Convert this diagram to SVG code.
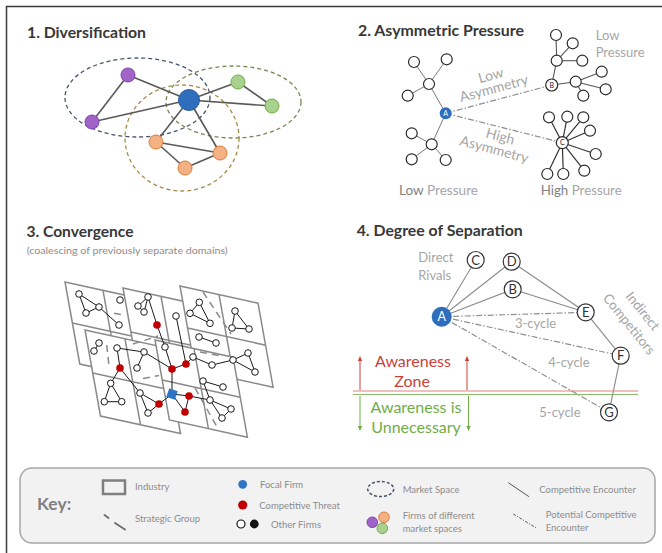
<svg xmlns="http://www.w3.org/2000/svg" width="662" height="553" viewBox="0 0 662 553">
<style>
text{font-family:Lato,"Liberation Sans",sans-serif}
.title{font-weight:bold;font-size:16px;fill:#383838}
.lbl{font-size:13px;fill:#A6A6A6}
.key{font-size:9.5px;fill:#8C8C8C}
.e1{stroke:#595959;stroke-width:1.6;fill:none}
.wn{fill:#fff;stroke:#2b2b2b;stroke-width:1.2}
.tree{stroke:#7a7a7a;stroke-width:1;fill:none}
.dd{stroke:#8f8f8f;stroke-width:1.2;stroke-dasharray:6 2 1.5 2;fill:none}
.tile{fill:#fff;stroke:#8a8a8a;stroke-width:1.5}
.div{stroke:#8a8a8a;stroke-width:1.5;fill:none}
.sg{stroke:#8a8a8a;stroke-width:1.5;stroke-dasharray:7 5;fill:none}
.ce{stroke:#1a1a1a;stroke-width:1;fill:none}
.sn{fill:#fff;stroke:#1a1a1a;stroke-width:1}
.rn{fill:#C00000}
.p4e{stroke:#8a8a8a;stroke-width:1.1;fill:none}
.p4n{fill:#fff;stroke:#333;stroke-width:1.2}
.p4t{font-size:13px;fill:#333;text-anchor:middle}
</style>
<defs>
<marker id="ar" markerWidth="6" markerHeight="6" refX="3" refY="3" orient="auto" markerUnits="userSpaceOnUse"><path d="M0,0.8 L5,3 L0,5.2 z" fill="#C8423A"/></marker>
<marker id="ag" markerWidth="6" markerHeight="6" refX="3" refY="3" orient="auto" markerUnits="userSpaceOnUse"><path d="M0,0.8 L5,3 L0,5.2 z" fill="#70AD47"/></marker>
</defs>
<rect width="662" height="553" fill="#fff"/>
<path d="M6.5,553 V6.5 H662" fill="none" stroke="#3a3a3a" stroke-width="1.5"/>

<!-- Panel 1 -->
<text class="title" x="27" y="38" textLength="119" lengthAdjust="spacingAndGlyphs">1. Diversification</text>
<g id="p1-spaces" fill="none" stroke-width="1.3" stroke-dasharray="4 3">
<ellipse cx="137.5" cy="97.5" rx="72.5" ry="39.5" stroke="#44546A"/>
<ellipse cx="233.5" cy="102" rx="67.5" ry="36" stroke="#6E8B4E"/>
<ellipse cx="182" cy="138" rx="57" ry="53" stroke="#A88B4A"/>
</g>
<g id="p1-connectors" class="e1">
<line x1="128" y1="75" x2="92" y2="122"/>
<line x1="128" y1="75" x2="189" y2="100"/>
<line x1="92" y1="122" x2="189" y2="100"/>
<line x1="189" y1="100" x2="238" y2="82"/>
<line x1="189" y1="100" x2="272" y2="106"/>
<line x1="238" y1="82" x2="272" y2="106"/>
<line x1="189" y1="100" x2="156" y2="142"/>
<line x1="189" y1="100" x2="220" y2="153"/>
<line x1="156" y1="142" x2="220" y2="153"/>
<line x1="156" y1="142" x2="185" y2="168"/>
<line x1="185" y1="168" x2="220" y2="153"/>
</g>
<g id="p1-focal"><circle cx="189" cy="100" r="10.5" fill="#2E6EBD" stroke="#2A5FA0" stroke-width="1"/></g>
<g id="p1-purple1"><circle cx="128" cy="75" r="7" fill="#A064C8" stroke="#7E44AA" stroke-width="1"/></g>
<g id="p1-purple2"><circle cx="92" cy="122" r="7" fill="#A064C8" stroke="#7E44AA" stroke-width="1"/></g>
<g id="p1-green1"><circle cx="238" cy="82" r="7" fill="#A9D18E" stroke="#70AD47" stroke-width="1"/></g>
<g id="p1-green2"><circle cx="272" cy="106" r="7" fill="#A9D18E" stroke="#70AD47" stroke-width="1"/></g>
<g id="p1-orange1"><circle cx="156" cy="142" r="7" fill="#F4B183" stroke="#E07B39" stroke-width="1"/></g>
<g id="p1-orange2"><circle cx="220" cy="153" r="7" fill="#F4B183" stroke="#E07B39" stroke-width="1"/></g>
<g id="p1-orange3"><circle cx="185" cy="168" r="7" fill="#F4B183" stroke="#E07B39" stroke-width="1"/></g>

<!-- Panel 2 -->
<text class="title" x="358" y="35.5" textLength="166" lengthAdjust="spacingAndGlyphs">2. Asymmetric Pressure</text>
<g id="p2-connectors">
<g class="tree">
<line x1="445.7" y1="113.3" x2="429" y2="84"/>
<line x1="429" y1="84" x2="414" y2="62"/>
<line x1="429" y1="84" x2="446.7" y2="59.3"/>
<line x1="429" y1="84" x2="407.7" y2="95.7"/>
<line x1="445.7" y1="113.3" x2="431.7" y2="144.3"/>
<line x1="431.7" y1="144.3" x2="411.7" y2="133.3"/>
<line x1="431.7" y1="144.3" x2="411.7" y2="159.3"/>
<line x1="431.7" y1="144.3" x2="445.7" y2="160"/>
</g>
<g stroke="#555" stroke-width="1.1" fill="none">
<line x1="551.7" y1="85" x2="556.7" y2="60.7"/>
<line x1="556.7" y1="60.7" x2="556" y2="35"/>
<line x1="556.7" y1="60.7" x2="572.7" y2="43.3"/>
<line x1="556.7" y1="60.7" x2="582.3" y2="60.7"/>
<line x1="551.7" y1="85" x2="575.7" y2="81.7"/>
<line x1="575.7" y1="81.7" x2="601.7" y2="71.7"/>
<line x1="575.7" y1="81.7" x2="605.7" y2="89.3"/>
<line x1="575.7" y1="81.7" x2="583.3" y2="95.7"/>
</g>
<g stroke="#333" stroke-width="1.2" fill="none">
<line x1="562.3" y1="142.7" x2="549" y2="117.3"/>
<line x1="562.3" y1="142.7" x2="567.3" y2="116.7"/>
<line x1="562.3" y1="142.7" x2="583.3" y2="117.3"/>
<line x1="562.3" y1="142.7" x2="590" y2="130.7"/>
<line x1="562.3" y1="142.7" x2="595.7" y2="154"/>
<line x1="562.3" y1="142.7" x2="584.3" y2="170.7"/>
<line x1="562.3" y1="142.7" x2="563.3" y2="174"/>
<line x1="562.3" y1="142.7" x2="547.3" y2="174"/>
</g>
<line class="dd" x1="445.7" y1="113.3" x2="551.7" y2="85"/>
<line class="dd" x1="445.7" y1="113.3" x2="562.3" y2="142.7"/>
</g>
<g id="p2-leaves">
<circle class="wn" cx="429" cy="84" r="5.5"/>
<circle class="wn" cx="414" cy="62" r="5.5"/>
<circle class="wn" cx="446.7" cy="59.3" r="5.5"/>
<circle class="wn" cx="407.7" cy="95.7" r="5.5"/>
<circle class="wn" cx="431.7" cy="144.3" r="5.5"/>
<circle class="wn" cx="411.7" cy="133.3" r="5.5"/>
<circle class="wn" cx="411.7" cy="159.3" r="5.5"/>
<circle class="wn" cx="445.7" cy="160" r="5.5"/>
<circle class="wn" cx="556.7" cy="60.7" r="5.5"/>
<circle class="wn" cx="556" cy="35" r="5.5"/>
<circle class="wn" cx="572.7" cy="43.3" r="5.5"/>
<circle class="wn" cx="582.3" cy="60.7" r="5.5"/>
<circle class="wn" cx="575.7" cy="81.7" r="5.5"/>
<circle class="wn" cx="601.7" cy="71.7" r="5.5"/>
<circle class="wn" cx="605.7" cy="89.3" r="5.5"/>
<circle class="wn" cx="583.3" cy="95.7" r="5.5"/>
<circle class="wn" cx="549" cy="117.3" r="5.5"/>
<circle class="wn" cx="567.3" cy="116.7" r="5.5"/>
<circle class="wn" cx="583.3" cy="117.3" r="5.5"/>
<circle class="wn" cx="590" cy="130.7" r="5.5"/>
<circle class="wn" cx="595.7" cy="154" r="5.5"/>
<circle class="wn" cx="584.3" cy="170.7" r="5.5"/>
<circle class="wn" cx="563.3" cy="174" r="5.5"/>
<circle class="wn" cx="547.3" cy="174" r="5.5"/>
</g>
<g id="p2-A"><circle cx="445.7" cy="113.3" r="6" fill="#2E6EBD"/><text x="445.7" y="116" font-size="7" fill="#fff" text-anchor="middle">A</text></g>
<g id="p2-B"><circle class="wn" cx="551.7" cy="85" r="6"/><text x="551.7" y="87.7" font-size="7" fill="#222" text-anchor="middle">B</text></g>
<g id="p2-C"><circle class="wn" cx="562.3" cy="142.7" r="6"/><text x="562.3" y="145.4" font-size="7" fill="#222" text-anchor="middle">C</text></g>
<g font-size="14" fill="#A6A6A6" text-anchor="middle">
<text transform="translate(492,80) rotate(-15)">Low</text>
<text transform="translate(495,93) rotate(-15)">Asymmetry</text>
<text transform="translate(499,141) rotate(15)">High</text>
<text transform="translate(493,154) rotate(15)">Asymmetry</text>
</g>
<text class="lbl" x="595.7" y="40">Low</text>
<text class="lbl" x="595.7" y="57">Pressure</text>
<text x="399" y="195" font-size="14" textLength="79" lengthAdjust="spacingAndGlyphs"><tspan fill="#7F7F7F">Low</tspan><tspan fill="#A6A6A6"> Pressure</tspan></text>
<text x="540.7" y="195" font-size="14" textLength="81" lengthAdjust="spacingAndGlyphs"><tspan fill="#7F7F7F">High</tspan><tspan fill="#A6A6A6"> Pressure</tspan></text>

<!-- Panel 3 -->
<text class="title" x="26.5" y="236.5" textLength="107" lengthAdjust="spacingAndGlyphs">3. Convergence</text>
<text x="26.7" y="254" font-size="9.5" fill="#8C8C8C" textLength="201" lengthAdjust="spacingAndGlyphs">(coalescing of previously separate domains)</text>
<g id="p3-industries">
<g id="ind-A"><polygon class="tile" points="65,282 141,298.7 155.8,380.7 79.8,364"/><line class="div" x1="103" y1="290.4" x2="117.8" y2="372.4"/><line class="div" x1="72.4" y1="323" x2="148.4" y2="339.7"/></g>
<g id="ind-B"><polygon class="tile" points="123,288 199,304.7 214.8,392.7 138.8,376"/><line class="div" x1="161" y1="296.4" x2="176.8" y2="384.4"/><line class="div" x1="130.9" y1="332" x2="206.9" y2="348.7"/></g>
<g id="ind-C"><polygon class="tile" points="180,286 258,303.2 273.1,387.2 195.1,370"/><line class="div" x1="219" y1="294.6" x2="234.1" y2="378.6"/><line class="div" x1="187.6" y1="328" x2="265.6" y2="345.2"/></g>
<g id="ind-D"><polygon class="tile" points="85,330 165,347.6 180.5,433.6 100.5,416"/><line class="div" x1="125" y1="338.8" x2="140.5" y2="424.8"/><line class="div" x1="92.7" y1="373" x2="172.7" y2="390.6"/></g>
<g id="ind-E"><polygon class="tile" points="155,340 233,357.2 247.4,437.2 169.4,420"/><line class="div" x1="194" y1="348.6" x2="208.4" y2="428.6"/><line class="div" x1="162.2" y1="380" x2="240.2" y2="397.2"/></g>
</g>
<g id="p3-groups">
<line class="sg" x1="114" y1="313.3" x2="122" y2="314.6"/>
<line class="sg" x1="133" y1="344" x2="158" y2="336"/>
<line class="sg" x1="106.7" y1="345" x2="109" y2="366"/>
<line class="sg" x1="203" y1="292" x2="231" y2="334"/>
<line class="sg" x1="200" y1="352" x2="222" y2="356"/>
<line class="sg" x1="143" y1="378.5" x2="159" y2="375.5"/>
<line class="sg" x1="195" y1="388" x2="217" y2="427"/>
</g>
<g id="p3-connectors" class="ce">
<polyline points="79,294 99,307 86,313 79,294"/>
<line x1="99" y1="307" x2="119" y2="325"/>
<polyline points="148,297 138,306 144,312 148,297"/>
<line x1="148" y1="297" x2="157" y2="325"/>
<polyline points="157,325 165,347 172,369"/>
<line x1="176" y1="316" x2="186" y2="364"/>
<polyline points="199.3,302.3 190,313.3 210,323.3 199.3,302.3"/>
<polyline points="235,311 232,328 249,329 235,311"/>
<line x1="199" y1="337" x2="216" y2="343"/>
<line x1="99" y1="343" x2="94" y2="351"/>
<polyline points="117,348 144,352 172,369"/>
<line x1="144" y1="352" x2="137" y2="368"/>
<line x1="117" y1="348" x2="120" y2="368"/>
<line x1="120" y1="368" x2="110.7" y2="383.3"/>
<polyline points="110.7,383.3 104.3,401.7 121.7,401.7 110.7,383.3"/>
<polyline points="120,368 140,393 148,413 159,404 140,393"/>
<line x1="159" y1="404" x2="172" y2="394"/>
<line x1="172" y1="394" x2="172" y2="369"/>
<polyline points="172,394 189,396 185,412 172,394"/>
<line x1="172" y1="369" x2="186" y2="364"/>
<polyline points="186,364 193,357 212,365 233,360 248,353 255,372 233,360"/>
<polyline points="189,396 210,400 231,409 222,418 210,400 203,381 223,387"/>
</g>
<g id="p3-firms">
<circle class="sn" cx="79" cy="294" r="3.3"/><circle class="sn" cx="99" cy="307" r="3.3"/><circle class="sn" cx="86" cy="313" r="3.3"/><circle class="sn" cx="119" cy="325" r="3.3"/>
<circle class="sn" cx="120" cy="300" r="3.3"/>
<circle class="sn" cx="148" cy="297" r="3.3"/><circle class="sn" cx="138" cy="306" r="3.3"/><circle class="sn" cx="144" cy="312" r="3.3"/>
<circle class="sn" cx="165" cy="347" r="3.3"/><circle class="sn" cx="176" cy="316" r="3.3"/>
<circle class="sn" cx="199.3" cy="302.3" r="3.3"/><circle class="sn" cx="190" cy="313.3" r="3.3"/><circle class="sn" cx="210" cy="323.3" r="3.3"/>
<circle class="sn" cx="235" cy="311" r="3.3"/><circle class="sn" cx="232" cy="328" r="3.3"/><circle class="sn" cx="249" cy="329" r="3.3"/>
<circle class="sn" cx="199" cy="337" r="3.3"/><circle class="sn" cx="216" cy="343" r="3.3"/>
<circle class="sn" cx="99" cy="343" r="3.3"/><circle class="sn" cx="94" cy="351" r="3.3"/>
<circle class="sn" cx="117" cy="348" r="3.3"/><circle class="sn" cx="144" cy="352" r="3.3"/><circle class="sn" cx="137" cy="368" r="3.3"/>
<circle class="sn" cx="110.7" cy="383.3" r="3.3"/><circle class="sn" cx="104.3" cy="401.7" r="3.3"/><circle class="sn" cx="121.7" cy="401.7" r="3.3"/>
<circle class="sn" cx="140" cy="393" r="3.3"/><circle class="sn" cx="148" cy="413" r="3.3"/>
<circle class="sn" cx="193" cy="357" r="3.3"/><circle class="sn" cx="212" cy="365" r="3.3"/><circle class="sn" cx="233" cy="360" r="3.3"/><circle class="sn" cx="248" cy="353" r="3.3"/><circle class="sn" cx="255" cy="372" r="3.3"/>
<circle class="sn" cx="210" cy="400" r="3.3"/><circle class="sn" cx="231" cy="409" r="3.3"/><circle class="sn" cx="222" cy="418" r="3.3"/><circle class="sn" cx="203" cy="381" r="3.3"/><circle class="sn" cx="223" cy="387" r="3.3"/>
<circle class="rn" cx="157" cy="325" r="3.8"/><circle class="rn" cx="172" cy="369" r="3.8"/><circle class="rn" cx="186" cy="364" r="3.8"/><circle class="rn" cx="120" cy="368" r="3.8"/><circle class="rn" cx="159" cy="404" r="3.8"/><circle class="rn" cx="189" cy="396" r="3.8"/><circle class="rn" cx="185" cy="412" r="3.8"/>
<rect x="167.5" y="389.5" width="9" height="9" fill="#2E75C6" transform="rotate(20 172 394)"/>
</g>

<!-- Panel 4 -->
<text class="title" x="356.7" y="235.5" textLength="166" lengthAdjust="spacingAndGlyphs">4. Degree of Separation</text>
<g id="p4-connectors">
<line class="p4e" x1="441.7" y1="316.7" x2="475.7" y2="260"/>
<line class="p4e" x1="441.7" y1="316.7" x2="511.7" y2="261.7"/>
<line class="p4e" x1="441.7" y1="316.7" x2="512.7" y2="289.3"/>
<line class="p4e" x1="511.7" y1="261.7" x2="585.7" y2="312.3"/>
<line class="p4e" x1="512.7" y1="289.3" x2="585.7" y2="312.3"/>
<line class="p4e" x1="585.7" y1="312.3" x2="620.7" y2="355.7"/>
<line class="p4e" x1="620.7" y1="355.7" x2="609" y2="412.3"/>
<line class="dd" x1="441.7" y1="316.7" x2="585.7" y2="312.3"/>
<line class="dd" x1="441.7" y1="316.7" x2="620.7" y2="355.7"/>
<line class="dd" x1="441.7" y1="316.7" x2="609" y2="412.3"/>
</g>
<g id="p4-A"><circle cx="441.7" cy="316.7" r="10" fill="#2E6EBD"/><text x="441.7" y="321.2" font-size="12.5" fill="#fff" text-anchor="middle">A</text></g>
<g id="p4-C"><circle class="p4n" cx="475.7" cy="260" r="8.5"/><text class="p4t" x="475.7" y="264.6">C</text></g>
<g id="p4-D"><circle class="p4n" cx="511.7" cy="261.7" r="8.5"/><text class="p4t" x="511.7" y="266.3">D</text></g>
<g id="p4-B"><circle class="p4n" cx="512.7" cy="289.3" r="8.5"/><text class="p4t" x="512.7" y="293.9">B</text></g>
<g id="p4-E"><circle class="p4n" cx="585.7" cy="312.3" r="8.5"/><text class="p4t" x="585.7" y="316.9">E</text></g>
<g id="p4-F"><circle class="p4n" cx="620.7" cy="355.7" r="8.5"/><text class="p4t" x="620.7" y="360.3">F</text></g>
<g id="p4-G"><circle class="p4n" cx="609" cy="412.3" r="8.5"/><text class="p4t" x="609" y="416.9">G</text></g>
<text class="lbl" x="418.3" y="262">Direct</text>
<text class="lbl" x="418.3" y="280">Rivals</text>
<text class="lbl" x="515" y="328.3">3-cycle</text>
<text class="lbl" x="548.3" y="366.7">4-cycle</text>
<text class="lbl" x="539.3" y="416.7">5-cycle</text>
<g font-size="13.5" fill="#A6A6A6" text-anchor="middle">
<text transform="translate(639,314) rotate(51)">Indirect</text>
<text transform="translate(625.5,327) rotate(51)">Competitors</text>
</g>
<g id="p4-zones">
<line x1="353" y1="391" x2="638" y2="391" stroke="#E58080" stroke-width="1.2"/>
<line x1="353" y1="394.5" x2="638" y2="394.5" stroke="#8DB870" stroke-width="1.2"/>
<line x1="360" y1="390" x2="360" y2="358" stroke="#C8423A" stroke-width="1" marker-end="url(#ar)"/>
<line x1="467" y1="390" x2="467" y2="358" stroke="#C8423A" stroke-width="1" marker-end="url(#ar)"/>
<line x1="360" y1="396" x2="360" y2="429" stroke="#70AD47" stroke-width="1" marker-end="url(#ag)"/>
<line x1="468.5" y1="396" x2="468.5" y2="429" stroke="#70AD47" stroke-width="1" marker-end="url(#ag)"/>
<g font-size="16" text-anchor="middle">
<text x="413" y="366.7" fill="#C8423A">Awareness</text>
<text x="412" y="386.5" fill="#C8423A">Zone</text>
<text x="416" y="413.3" fill="#70AD47">Awareness is</text>
<text x="416" y="433" fill="#70AD47">Unnecessary</text>
</g>
</g>

<!-- Key -->
<g id="key">
<rect x="20" y="468" width="635" height="75" rx="12" fill="#F2F2F2" stroke="#A6A6A6" stroke-width="1.5"/>
<text x="37" y="510" font-size="17.5" font-weight="bold" fill="#808080">Key:</text>
<rect x="103" y="480.5" width="22" height="13.5" fill="none" stroke="#7F7F7F" stroke-width="2.5"/>
<text class="key" x="135" y="490">Industry</text>
<line x1="104.5" y1="515" x2="108.5" y2="518" stroke="#6F6F6F" stroke-width="2" stroke-linecap="round"/>
<line x1="115" y1="523" x2="125" y2="529.5" stroke="#6F6F6F" stroke-width="2" stroke-linecap="round"/>
<text class="key" x="135" y="521.5">Strategic Group</text>
<circle cx="242.7" cy="484.3" r="4.4" fill="#2E75C6"/>
<text class="key" x="260" y="488">Focal Firm</text>
<circle cx="242.7" cy="505" r="4.6" fill="#C00000"/>
<text class="key" x="259.3" y="509">Competitive Threat</text>
<circle cx="241" cy="524" r="4" fill="#fff" stroke="#111" stroke-width="1.2"/>
<circle cx="254.3" cy="524" r="4.4" fill="#111"/>
<text class="key" x="271" y="528">Other Firms</text>
<ellipse cx="380.7" cy="489" rx="13" ry="7.5" fill="none" stroke="#44546A" stroke-width="1.5" stroke-dasharray="3 2"/>
<text class="key" x="402.7" y="493">Market Space</text>
<circle cx="384" cy="517.3" r="5.3" fill="#F4B183" stroke="#E07B39" stroke-width="1"/>
<circle cx="382.3" cy="528.3" r="5.3" fill="#A9D18E" stroke="#70AD47" stroke-width="1"/>
<circle cx="372.3" cy="522.3" r="5.3" fill="#A064C8" stroke="#7E44AA" stroke-width="1"/>
<text class="key" x="402.7" y="519.3">Firms of different</text>
<text class="key" x="402.7" y="531.7">market spaces</text>
<line x1="508.3" y1="482.7" x2="529" y2="496.7" stroke="#555" stroke-width="1"/>
<text class="key" x="539.3" y="493">Competitive Encounter</text>
<line x1="513.3" y1="514" x2="536.7" y2="528.3" stroke="#555" stroke-width="1" stroke-dasharray="3 1.5 1 1.5"/>
<text class="key" x="545.7" y="518.3">Potential Competitive</text>
<text class="key" x="545.7" y="530.7">Encounter</text>
</g>
</svg>
